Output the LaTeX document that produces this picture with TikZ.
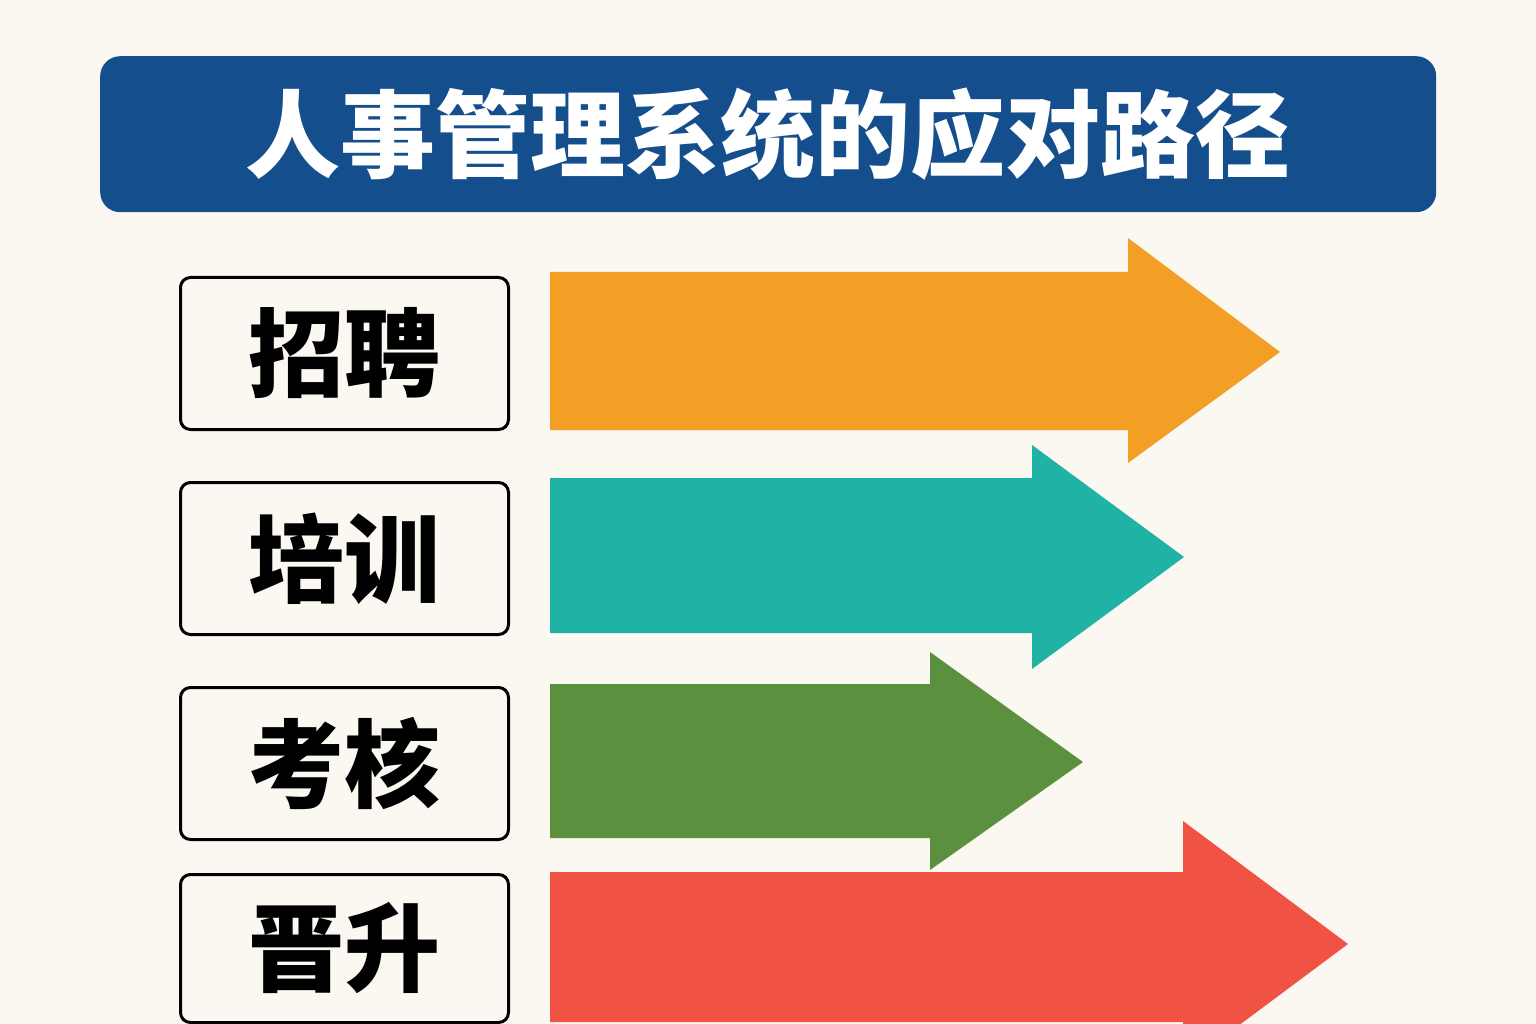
\documentclass[tikz,border=0pt]{standalone}
\usepackage{fontspec}
\newfontfamily\cjk{Noto Sans CJK SC}
\definecolor{bgc}{HTML}{FBF8F1}
\definecolor{titlec}{HTML}{144E8C}
\definecolor{orangec}{HTML}{F39F26}
\definecolor{tealc}{HTML}{21B2A6}
\definecolor{greenc}{HTML}{5B903F}
\definecolor{redc}{HTML}{F05244}
\tikzset{
  labelbox/.style={draw=black, line width=3pt, fill=bgc, rounded corners=10pt,
    minimum width=328pt, minimum height=152pt, inner sep=0pt, anchor=north west,
    font=\cjk\bfseries\fontsize{96pt}{100pt}\selectfont, text=black},
}
\begin{document}
\begin{tikzpicture}[x=1pt,y=-1pt]
\fill[bgc] (0,0) rectangle (1536,1024);
\useasboundingbox (0,0) rectangle (1536,1024);
% title
\node[fill=titlec, rounded corners=20pt, minimum width=1336pt, minimum height=156pt,
  inner sep=0pt, anchor=north west, text=white,
  font=\cjk\bfseries\fontsize{95pt}{100pt}\selectfont] (title) at (100,56) {人事管理系统的应对路径};
% label boxes
\node[labelbox] (b1) at (179,276) {招聘};
\node[labelbox] (b2) at (179,481) {培训};
\node[labelbox] (b3) at (179,686) {考核};
\node[labelbox, minimum height=148pt] (b4) at (179,873) {晋升};
% arrows
\fill[orangec] (550,272) -- (1128,272) -- (1128,238) -- (1280,352) -- (1128,463) -- (1128,430) -- (550,430) -- cycle;
\fill[tealc] (550,478) -- (1032,478) -- (1032,445) -- (1184,557) -- (1032,669) -- (1032,633) -- (550,633) -- cycle;
\fill[greenc] (550,684) -- (930,684) -- (930,652) -- (1083,762) -- (930,870) -- (930,838) -- (550,838) -- cycle;
\fill[redc] (550,872) -- (1183,872) -- (1183,821) -- (1348,944) -- (1183,1067) -- (1183,1022) -- (550,1022) -- cycle;
\end{tikzpicture}
\end{document}
